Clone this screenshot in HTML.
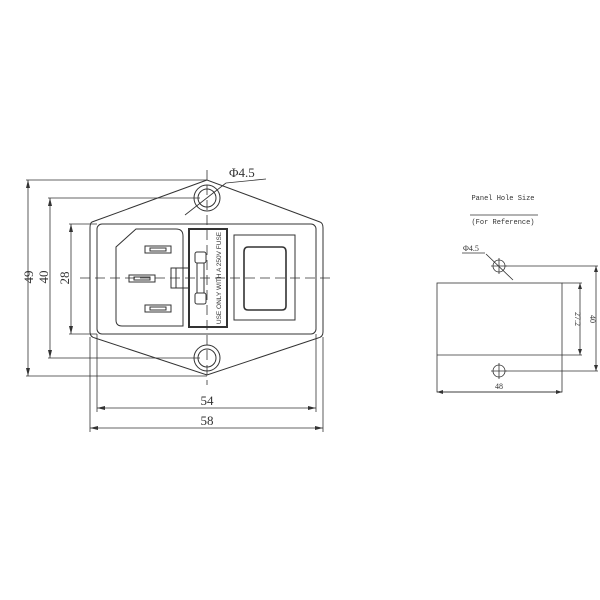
<!DOCTYPE html>
<html><head><style>body{margin:0;background:#fff}svg{display:block}</style></head><body>
<svg width="600" height="600" viewBox="0 0 600 600" xmlns="http://www.w3.org/2000/svg" font-family="Liberation Serif, serif" fill="none" stroke="#333" stroke-width="1">
<path d="M207,180 L92,222 Q90,223 90,228 L90,332 Q90,337 95,338 L207,375 L318,338 Q323,337 323,332 L323,228 Q323,223 320,222 Z"/>
<rect x="97" y="224" width="219" height="110" rx="5"/>
<circle cx="207" cy="198" r="13"/><circle cx="207" cy="198" r="9"/>
<circle cx="207" cy="358" r="13"/><circle cx="207" cy="358" r="9"/>
<g stroke-dasharray="10,5" stroke-width="0.8">
<line x1="80" y1="278" x2="335" y2="278"/>
<line x1="207" y1="170" x2="207" y2="385"/>
</g>
<path d="M136,229 L176,229 Q183,229 183,236 L183,326 L122,326 Q116,326 116,320 L116,247 Z"/>
<rect x="145" y="246" width="26" height="7"/><rect x="150" y="248" width="16" height="3"/>
<rect x="129" y="275" width="26" height="7"/><rect x="134" y="277" width="16" height="3"/>
<rect x="145" y="305" width="26" height="7"/><rect x="150" y="307" width="16" height="3"/>
<rect x="189" y="229" width="38" height="98" stroke-width="2"/>
<path d="M189,268 L171,268 L171,288 L189,288"/>
<path d="M176,268 L176,288"/>
<rect x="195" y="252" width="11" height="11" rx="2"/><rect x="195" y="293" width="11" height="11" rx="2"/>
<path d="M197,263 L197,293 M204,263 L204,293"/>
<text x="0" y="0" transform="translate(221,278) rotate(-90)" text-anchor="middle" font-family="Liberation Sans, sans-serif" font-size="6.5" fill="#333" stroke="none">USE ONLY WITH A 250V FUSE</text>
<rect x="234" y="235" width="61" height="85"/>
<path d="M248,247 L282,247 Q286,247 286,252 L286,306 Q286,310 282,310 L248,310 Q244,310 244,306 L244,252 Q244,247 248,247 Z" stroke-width="1.6"/>
<g stroke-width="0.8">
<line x1="26" y1="180" x2="207" y2="180"/><line x1="26" y1="376" x2="207" y2="376"/>
<line x1="28" y1="180" x2="28" y2="376"/>
<line x1="48" y1="198" x2="200" y2="198"/><line x1="48" y1="358" x2="200" y2="358"/>
<line x1="50" y1="198" x2="50" y2="358"/>
<line x1="69" y1="224" x2="97" y2="224"/><line x1="69" y1="334" x2="97" y2="334"/>
<line x1="71" y1="224" x2="71" y2="334"/>
<line x1="90" y1="337" x2="90" y2="432"/><line x1="323" y1="337" x2="323" y2="432"/>
<line x1="97" y1="334" x2="97" y2="412"/><line x1="316" y1="334" x2="316" y2="412"/>
<line x1="97" y1="408" x2="316" y2="408"/>
<line x1="90" y1="428" x2="323" y2="428"/>
<line x1="185" y1="215" x2="226" y2="183"/><line x1="226" y1="183" x2="266" y2="179"/>
</g>
<g fill="#333" stroke="none">
<path d="M28,180 l-2,8 l4,0z M28,376 l-2,-8 l4,0z M50,198 l-2,8 l4,0z M50,358 l-2,-8 l4,0z M71,224 l-2,8 l4,0z M71,334 l-2,-8 l4,0z"/>
<path d="M97,408 l8,-2 l0,4z M316,408 l-8,-2 l0,4z M90,428 l8,-2 l0,4z M323,428 l-8,-2 l0,4z"/>
</g>
<g fill="#333" stroke="none" font-size="13">
<text transform="translate(33,277) rotate(-90)" text-anchor="middle">49</text>
<text transform="translate(48,277) rotate(-90)" text-anchor="middle">40</text>
<text transform="translate(69,278) rotate(-90)" text-anchor="middle">28</text>
<text x="207" y="405" text-anchor="middle">54</text>
<text x="207" y="425" text-anchor="middle">58</text>
<text x="229" y="177">Φ4.5</text>
</g>
<g font-family="Liberation Mono, monospace" font-size="7" fill="#333" stroke="none">
<text x="503" y="200" text-anchor="middle">Panel Hole Size</text>
<text x="503" y="224" text-anchor="middle">(For Reference)</text>
<text x="463" y="251" font-family="Liberation Serif, serif" font-size="8">Φ4.5</text>
<text transform="translate(575,319) rotate(90)" text-anchor="middle" font-family="Liberation Serif, serif" font-size="8">27.2</text>
<text transform="translate(590,319) rotate(90)" text-anchor="middle" font-family="Liberation Serif, serif" font-size="8">40</text>
<text x="499" y="389" text-anchor="middle" font-family="Liberation Serif, serif" font-size="8">48</text>
</g>
<g stroke-width="0.8">
<line x1="470" y1="215" x2="538" y2="215"/>
<line x1="462" y1="253" x2="485" y2="253"/>
<line x1="486" y1="254" x2="513" y2="280"/>
<rect x="437" y="283" width="125" height="109"/>
<line x1="437" y1="355" x2="582" y2="355"/>
<line x1="562" y1="283" x2="582" y2="283"/>
<line x1="580" y1="283" x2="580" y2="355"/>
<line x1="505" y1="266" x2="598" y2="266"/><line x1="505" y1="371" x2="598" y2="371"/>
<line x1="596" y1="266" x2="596" y2="371"/>
<line x1="437" y1="392" x2="562" y2="392"/>
<circle cx="499" cy="266" r="6"/><circle cx="499" cy="371" r="6"/>
<path d="M491,266 h16 M499,258 v16 M491,371 h16 M499,363 v16"/>
</g>
<g fill="#333" stroke="none">
<path d="M580,283 l-2,6 l4,0z M580,355 l-2,-6 l4,0z M596,266 l-2,6 l4,0z M596,371 l-2,-6 l4,0z M437,392 l6,-2 l0,4z M562,392 l-6,-2 l0,4z"/>
</g>
</svg>
</body></html>
